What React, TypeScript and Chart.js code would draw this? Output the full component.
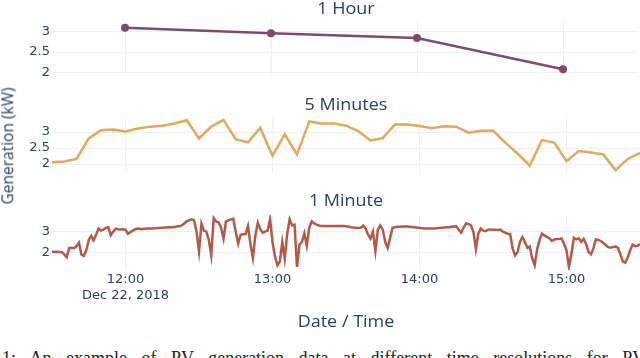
import React, { useEffect, useRef } from "react";
import { Chart, registerables } from "chart.js";

Chart.register(...registerables);

// ---- data ----
const X_MIN = 690; // 11:30 in minutes of day
const X_MAX = 930; // 15:30
const HOUR_TICKS = [720, 780, 840, 900];
const HOUR_TICK_LABELS = ["12:00", "13:00", "14:00", "15:00"];
const DATE_LABEL = "Dec 22, 2018";

const TITLES = ["1 Hour", "5 Minutes", "1 Minute"];
const X_TITLE = "Date / Time";
const Y_TITLE = "Generation (kW)";

const HOURLY_TIMES = [720, 780, 840, 900];
const HOURLY_VALUES = [3.09, 2.96, 2.84, 2.08];

const FIVE_MIN_START = 690;
const FIVE_MIN_STEP = 5;
const FIVE_MIN_VALUES = [
  2.06, 2.08, 2.16, 2.8, 3.06, 3.08, 3.02, 3.11, 3.17, 3.2, 3.27, 3.37, 2.8,
  3.17, 3.38, 2.77, 2.68, 3.13, 2.26, 2.93, 2.3, 3.33, 3.27, 3.27, 3.2, 3.03,
  2.74, 2.81, 3.24, 3.24, 3.19, 3.12, 3.18, 3.17, 2.98, 3.04, 3.05, 2.67, 2.33,
  1.95, 2.75, 2.67, 2.09, 2.41, 2.36, 2.3, 1.81, 2.16, 2.35, 2.45,
];

const ONE_MIN_START = 690;
const ONE_MIN_STEP = 1;
const ONE_MIN_VALUES = [
  2.02, 2.02, 2.03, 2.02, 2.0, 1.9, 1.76, 2.2, 2.22, 2.2, 2.3, 2.47, 1.89, 1.82,
  2.1, 2.6, 2.8, 2.58, 2.85, 3.15, 3.05, 3.1, 3.18, 3.21, 2.82, 3.0, 3.15, 3.12,
  3.11, 3.12, 3.1, 2.89, 2.98, 3.05, 3.12, 3.15, 3.13, 3.13, 3.14, 3.15, 3.15,
  3.16, 3.17, 3.18, 3.18, 3.19, 3.2, 3.2, 3.21, 3.22, 3.23, 3.25, 3.26, 3.3,
  3.4, 3.5, 3.56, 3.6, 3.55, 3.0, 2.05, 3.39, 3.05, 3.0, 2.6, 1.85, 3.66, 3.5,
  3.45, 3.2, 2.66, 3.5, 3.55, 3.6, 3.63, 3.0, 2.42, 2.85, 2.87, 2.88, 3.27, 2.4,
  1.73, 2.82, 3.44, 3.12, 2.95, 3.0, 3.05, 3.6, 2.5, 1.8, 1.37, 1.55, 2.5, 1.69,
  2.9, 3.6, 3.3, 3.34, 1.29, 2.37, 2.5, 2.92, 2.31, 3.2, 3.5, 3.4, 3.34, 3.3,
  3.27, 3.27, 3.27, 3.27, 3.28, 3.27, 3.27, 3.27, 3.27, 3.27, 3.26, 3.25, 3.22,
  3.2, 3.18, 3.18, 3.19, 3.3, 3.15, 2.85, 2.66, 3.0, 2.05, 3.1, 3.3, 3.1, 2.5,
  2.21, 2.7, 3.18, 3.22, 3.24, 3.24, 3.25, 3.25, 3.25, 3.24, 3.23, 3.22, 3.2,
  3.19, 3.17, 3.15, 3.15, 3.15, 3.15, 3.16, 3.17, 3.18, 3.19, 3.2, 3.21, 3.22,
  3.24, 3.25, 3.26, 3.1, 2.95, 3.2, 3.4, 3.38, 3.3, 3.0, 2.15, 2.9, 3.15, 3.05,
  3.02, 3.1, 3.11, 3.1, 3.1, 3.08, 3.1, 3.0, 2.95, 2.9, 2.88, 2.2, 1.85, 2.0,
  2.5, 2.74, 2.5, 2.22, 2.28, 1.7, 1.37, 2.15, 2.6, 2.9, 2.82, 2.75, 2.68, 2.55,
  2.62, 2.64, 2.64, 2.67, 2.4, 2.1, 1.29, 1.9, 2.7, 2.63, 2.68, 2.5, 2.65, 2.4,
  2.02, 1.9, 2.2, 2.63, 2.6, 2.55, 2.45, 2.35, 2.25, 2.22, 2.26, 2.28, 2.22,
  1.9, 1.55, 1.5, 1.75, 2.1, 2.37, 2.3, 2.32, 2.4, 2.45,
];

const TOP_Y_TICKS = [2, 2.5, 3];
const MID_Y_TICKS = [2, 2.5, 3];
const BOT_Y_TICKS = [2, 3];

// ---- styles ----
const GRID = "#EBF0F8";
const TEXT = "#2a3f5f";
const C_HOUR = "#7b4d6b";
const C_FIVE = "#e0a95e";
const C_ONE = "#b3594a";
const TICK_FONT = { family: "DejaVu Sans", size: 13 };
const PAD = 12; // extra canvas room around each plot area

type PanelProps = {
  top: number; // top of the plot area
  plotHeight: number;
  xs: number[];
  ys: number[];
  color: string;
  yMin: number;
  yMax: number;
  yTicks: number[];
  showX: boolean;
  markers: boolean;
};

function Panel(p: PanelProps) {
  const ref = useRef<HTMLCanvasElement | null>(null);
  const xAxisH = p.showX ? 45 : 0;
  const padBottom = p.showX ? 0 : PAD;
  const canvasH = PAD + p.plotHeight + xAxisH + padBottom;
  useEffect(() => {
    if (!ref.current) return;
    const points = p.xs.map((x, i) => ({ x, y: p.ys[i] }));
    const chart = new Chart(ref.current, {
      type: "line",
      data: {
        datasets: [
          {
            data: points,
            borderColor: p.color,
            backgroundColor: p.color,
            borderWidth: 2.5,
            pointRadius: p.markers ? 4 : 0,
            pointBorderWidth: 0,
            pointHoverRadius: 0,
            tension: 0,
            fill: false,
          },
        ],
      },
      options: {
        responsive: false,
        animation: false,
        events: [],
        layout: { padding: { top: PAD, bottom: padBottom, left: 0, right: 0 } },
        plugins: {
          legend: { display: false },
          tooltip: { enabled: false },
          title: { display: false },
        },
        scales: {
          x: {
            type: "linear",
            min: X_MIN,
            max: X_MAX,
            afterBuildTicks: (s: any) => {
              s.ticks = HOUR_TICKS.map((v) => ({ value: v }));
            },
            afterFit: (s: any) => {
              s.height = xAxisH;
            },
            grid: { color: GRID, lineWidth: 1, drawTicks: false },
            border: { display: false },
            ticks: {
              display: p.showX,
              padding: 2,
              color: TEXT,
              font: TICK_FONT,
              maxRotation: 0,
              autoSkip: false,
              callback: (_v: any, i: number) =>
                i === 0 ? [HOUR_TICK_LABELS[i], DATE_LABEL] : HOUR_TICK_LABELS[i],
            },
          },
          y: {
            type: "linear",
            min: p.yMin,
            max: p.yMax,
            afterBuildTicks: (s: any) => {
              s.ticks = p.yTicks.map((v) => ({ value: v }));
            },
            afterFit: (s: any) => {
              s.width = 52;
            },
            grid: { color: GRID, lineWidth: 1, drawTicks: false },
            border: { display: false },
            ticks: {
              padding: 2,
              autoSkip: false,
              color: TEXT,
              font: TICK_FONT,
              callback: (v: any) => String(v),
            },
          },
        },
      } as any,
    });
    return () => chart.destroy();
  }, []);
  return (
    <canvas
      ref={ref}
      width={640}
      height={canvasH}
      style={{ position: "absolute", left: 0, top: p.top - PAD, width: 640, height: canvasH }}
    />
  );
}

function Label(props: { text: string; cx: number; cy: number; rotate?: boolean }) {
  const t = props.rotate
    ? "translate(-50%, -50%) rotate(-90deg)"
    : "translate(-50%, -50%) scaleX(1.16)";
  return (
    <div
      style={{
        position: "absolute",
        left: props.cx,
        top: props.cy,
        transform: t,
        fontFamily: "'Open Sans', sans-serif",
        fontSize: 15.5,
        lineHeight: 1,
        color: TEXT,
        whiteSpace: "nowrap",
      }}
    >
      {props.text}
    </div>
  );
}

export default function App() {
  const fiveXs = FIVE_MIN_VALUES.map((_, i) => FIVE_MIN_START + i * FIVE_MIN_STEP);
  const oneXs = ONE_MIN_VALUES.map((_, i) => ONE_MIN_START + i * ONE_MIN_STEP);
  return (
    <div
      style={{
        position: "fixed",
        left: 0,
        top: 0,
        width: 640,
        height: 358,
        overflow: "hidden",
        background: "#fff",
      }}
    >
      <Panel top={20} plotHeight={55} xs={HOURLY_TIMES} ys={HOURLY_VALUES} color={C_HOUR}
        yMin={1.94} yMax={3.28} yTicks={TOP_Y_TICKS} showX={false} markers={true} />
      <Panel top={118} plotHeight={55} xs={fiveXs} ys={FIVE_MIN_VALUES} color={C_FIVE}
        yMin={1.72} yMax={3.44} yTicks={MID_Y_TICKS} showX={false} markers={false} />
      <Panel top={215} plotHeight={55} xs={oneXs} ys={ONE_MIN_VALUES} color={C_ONE}
        yMin={1.14} yMax={3.81} yTicks={BOT_Y_TICKS} showX={true} markers={false} />
      <Label text={TITLES[0]} cx={346} cy={9} />
      <Label text={TITLES[1]} cx={346} cy={104.5} />
      <Label text={TITLES[2]} cx={346} cy={201.3} />
      <Label text={X_TITLE} cx={346} cy={322.3} />
      <Label text={Y_TITLE} cx={7.5} cy={146} rotate={true} />
      <div
        style={{
          position: "absolute",
          left: 2,
          top: 348,
          fontFamily: "'Liberation Serif', serif",
          fontSize: 18,
          lineHeight: "20px",
          color: "#222",
          whiteSpace: "nowrap",
          wordSpacing: 10,
        }}
      >
        1: An example of PV generation data at different time resolutions for PV systems
      </div>
    </div>
  );
}
